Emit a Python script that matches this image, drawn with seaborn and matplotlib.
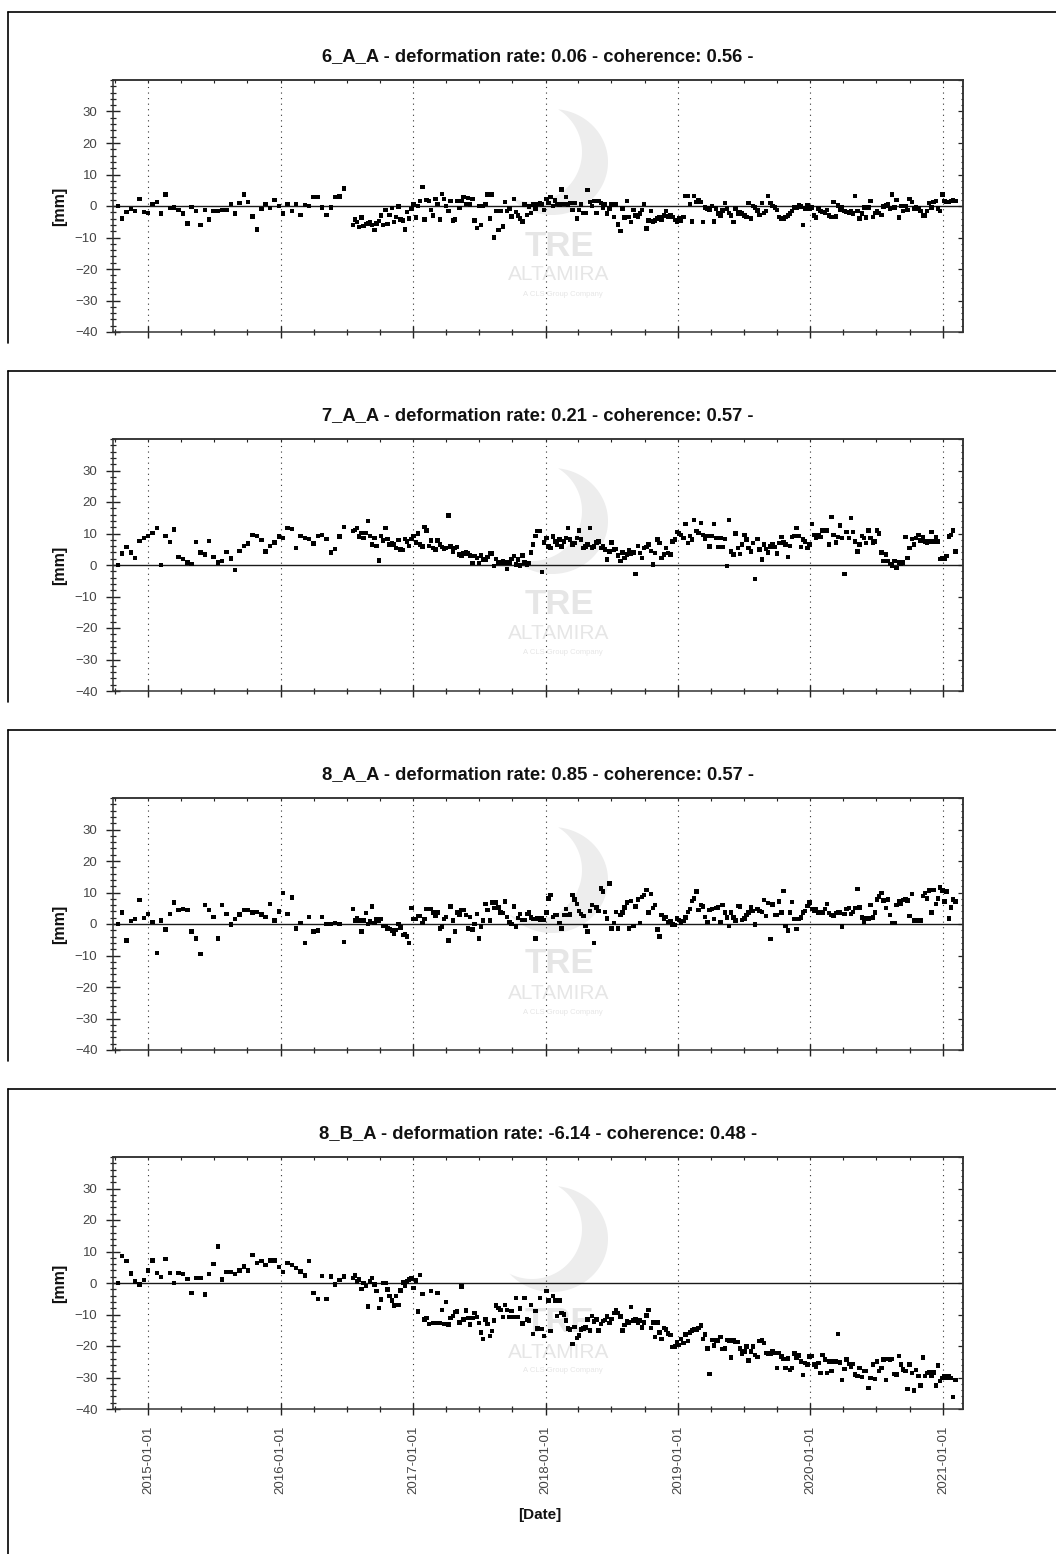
import numpy as np
import pandas as pd
import matplotlib
matplotlib.use("Agg")
import matplotlib.pyplot as plt
import matplotlib.dates as mdates
from matplotlib.ticker import MultipleLocator, FixedLocator
from matplotlib.lines import Line2D
from matplotlib.patches import Polygon
import seaborn as sns

sns.set_style("white")
plt.rcParams['font.family'] = ['Liberation Sans', 'DejaVu Sans']

# ---------------- acquisition schedule ----------------
SCHED_A_START, SCHED_A_N, SCHED_A_STEP = "2014-10-09", 53, "12D"
SCHED_B_START, SCHED_B_N, SCHED_B_STEP = "2016-07-18", 278, "6D"

titles = [
    "6_A_A - deformation rate: 0.06 - coherence: 0.56 -",
    "7_A_A - deformation rate: 0.21 - coherence: 0.57 -",
    "8_A_A - deformation rate: 0.85 - coherence: 0.57 -",
    "8_B_A - deformation rate: -6.14 - coherence: 0.48 -",
]

# ---------------- panel 1 : 6_A_A ----------------
p1_2014 = [0.0, -4.0, -2.0, -1.0, -1.6, 2.3, -2.0]
p1_2015 = [-2.2, 0.6, 1.3, -2.4, 3.6, -0.6, -0.5, -1.2, -2.4, -5.6,
           -0.4, -1.6, -6.0, -1.2, -4.3, -1.6, -1.6, -1.2, -1.2, 0.7,
           -2.4, 1.0, 3.6, 1.3, -3.3, -7.5, -1.0, 0.7, -0.6, 2.0, 0.0]
p1_2016a = [-2.4, 0.7, -1.6, 0.7, -2.9, 0.4, 0.0, 2.9, 2.9, -0.5,
            -2.9, -0.5, 2.9, 3.0, 5.6]
p1_2016b = [-6.1, -4.3, -5.0, -6.7, -3.7, -6.3, -5.8, -5.6, -5.3, -6.0,
            -7.7, -5.6, -4.8, -3.0, -6.1, -1.2, -5.8, -2.8, -0.6, -5.1,
            -3.5, -0.2, -4.3, -4.6, -7.5, -2.0, -4.0, -1.0]
p1_2017 = [0.5, -3.7, 0.0, 1.6, 6.0, -4.3, 2.0, 1.6, -1.2, -3.0,
           2.3, 0.7, -4.3, 3.9, 2.3, 0.0, -1.6, 1.6, -4.6, -4.3,
           1.6, -0.6, 1.6, 2.9, 0.7, 2.6, 0.5, 2.3, -4.6, -6.9,
           0.0, -6.1, 0.0, 0.7, 3.6, -4.0, 3.6, -10.0, -1.6, -7.7,
           -1.6, -6.5, 1.3, -1.6, -0.8, -3.3, 2.3, -1.9, -3.0, -4.0,
           -4.9, 0.5, -2.8, -0.1, -2.2, 0.5, -0.8, 0.7, 1.0, 0.5, -1.2]
p1_2018 = [2.3, 1.0, 2.9, 0.0, 1.8, 0.7, 0.5, 5.2, 0.7, 2.9,
           0.5, 1.0, -1.2, 1.0, -4.0, -1.2, 0.5, -2.2, -2.2, 5.0,
           1.3, 0.0, 1.6, -2.2, 1.6, 1.0, -0.5, 0.5, -2.4, -0.8,
           0.5, -3.5, 0.5, -5.9, -7.9, -0.8, -3.7, 1.6, -3.5, -5.1,
           -1.2, -3.0, -3.5, -2.4, -1.2, 0.7, -7.2, -4.6, -1.6, -4.9,
           -4.6, -4.0, -3.7, -4.3, -3.0, -1.6, -3.3, -3.0, -3.5, -4.5, -5.1]
p1_2019 = [-4.0, -4.6, -3.5, 3.1, 3.1, 0.7, -4.9, 3.1, 1.3, 2.0,
           1.3, -5.1, -0.5, -0.8, -1.2, 0.0, -4.9, -0.8, -2.4, -3.0,
           -1.4, 1.0, -0.8, -2.2, -3.0, -5.1, -0.8, -2.4, -1.9, -2.4,
           -3.0, -3.5, 1.0, -4.0, 0.0, -0.5, -1.4, -2.8, 1.0, -2.2,
           -1.6, 3.2, 1.0, 0.0, -0.5, -1.2, -3.5, -4.0, -4.0, -3.5,
           -3.0, -2.4, -1.6, -0.5, -0.5, 0.2, -0.1, -6.1, -0.8, 0.2]
p1_2020 = [-0.8, -0.5, -3.0, -3.7, -0.8, -1.6, -1.9, -2.2, -1.2, -3.0,
           -3.5, 1.3, -3.3, 0.2, -1.2, -0.5, -1.6, -1.9, -2.2, -1.6,
           -2.4, 3.2, -1.6, -4.0, -2.4, -0.5, -3.7, -0.5, 1.6, -3.5,
           -2.2, -1.6, -2.2, -2.8, -0.1, 0.2, 0.5, -0.8, 3.6, -0.5,
           2.0, -3.7, 0.0, -1.6, 0.0, -1.2, 2.3, 1.3, -0.8, -0.5,
           -0.8, -1.6, -3.0, -3.0, -1.6, 1.0, -0.5, 1.3, 1.6, -0.8, -1.6]
p1_2021 = [3.6, 1.6, 1.3, 1.3, 1.6, 2.0, 1.6]

# ---------------- panel 2 : 7_A_A ----------------
p2_2014 = [0.0, 3.6, 5.7, 4.0, 2.2, 7.7, 8.5]
p2_2015 = [9.3, 10.2, 11.7, 0.0, 9.3, 7.3, 11.3, 2.5, 2.0, 0.8,
           0.4, 7.3, 4.0, 3.3, 7.7, 2.5, 0.8, 1.2, 4.1, 2.1,
           -1.6, 4.5, 6.1, 6.8, 9.6, 9.3, 8.0, 4.3, 6.1, 7.2, 9.0]
p2_2016a = [8.6, 11.7, 11.4, 5.4, 9.3, 8.6, 8.3, 6.8, 9.3, 9.6,
            8.3, 4.0, 5.1, 9.0, 12.1]
p2_2016b = [10.7, 11.2, 11.7, 9.0, 10.2, 8.6, 10.2, 13.9, 9.3, 6.5,
            8.6, 6.1, 1.4, 9.3, 7.8, 11.7, 8.3, 6.5, 7.0, 6.5,
            5.4, 8.0, 4.9, 4.7, 8.3, 7.5, 6.1, 8.3]
p2_2017 = [9.3, 7.2, 10.0, 6.5, 5.9, 12.1, 11.0, 6.1, 7.8, 5.4,
           4.9, 7.8, 6.5, 5.7, 5.1, 5.4, 15.7, 5.9, 4.3, 5.4,
           5.7, 3.3, 2.8, 3.6, 4.1, 3.6, 3.0, 0.6, 2.8, 2.2,
           0.6, 3.0, 1.7, 1.5, 2.5, 3.8, 3.6, -0.4, 1.9, 0.6,
           0.8, 1.2, 0.8, -1.2, 0.8, 1.9, 2.8, 0.1, 1.7, -0.1,
           3.0, 0.8, 0.1, 0.6, 4.0, 6.5, 9.3, 10.7, 10.7, -2.3, 7.2]
p2_2018 = [8.6, 5.9, 5.4, 9.1, 7.5, 6.5, 8.1, 5.9, 7.5, 8.6,
           11.7, 8.1, 6.5, 7.0, 8.6, 11.0, 8.1, 5.4, 5.9, 6.5,
           11.7, 5.6, 5.9, 7.2, 7.5, 5.4, 5.9, 4.9, 1.7, 4.3,
           7.2, 4.9, 5.1, 3.0, 1.2, 4.0, 2.2, 3.3, 4.6, 3.5,
           4.0, -2.9, 6.1, 3.8, 2.2, 5.4, 5.7, 6.5, 4.5, 0.1,
           3.8, 8.1, 7.0, 2.2, 3.3, 5.4, 3.8, 3.3, 7.5, 8.1, 10.4]
p2_2019 = [10.0, 9.6, 8.6, 13.0, 7.0, 9.3, 8.1, 14.2, 10.7, 10.2,
           13.3, 9.6, 8.3, 9.3, 5.9, 9.3, 13.0, 8.6, 5.7, 8.6,
           5.7, 8.3, -0.4, 14.2, 4.3, 3.3, 10.0, 5.4, 3.5, 6.5,
           9.6, 8.1, 5.4, 4.3, 7.0, -4.4, 8.3, 4.9, 1.7, 6.5,
           5.1, 4.0, 5.9, 6.5, 5.7, 3.6, 7.0, 8.9, 7.2, 6.5,
           2.5, 6.1, 8.9, 9.3, 11.7, 9.3, 5.7, 8.1, 7.5, 5.4]
p2_2020 = [6.5, 13.0, 9.6, 8.6, 9.6, 8.9, 11.0, 10.7, 11.0, 6.5,
           15.2, 9.6, 7.2, 8.9, 12.5, 8.6, -2.8, 10.4, 8.6, 14.9,
           10.4, 7.5, 4.3, 6.5, 9.3, 8.6, 7.0, 11.0, 8.6, 7.2,
           7.5, 11.0, 10.0, 4.0, 1.2, 3.3, 1.2, 0.4, -0.2, 1.2,
           -1.0, 0.8, 0.4, 0.8, 8.9, 2.2, 5.4, 8.3, 6.5, 8.6,
           9.6, 7.8, 8.9, 7.5, 7.2, 7.5, 10.4, 7.5, 8.8, 7.5, 1.9]
p2_2021 = [2.2, 1.9, 2.8, 9.1, 9.6, 11.0, 4.3]

# ---------------- panel 3 : 8_A_A ----------------
p3_2014 = [0.0, 3.6, -5.3, 1.0, 1.6, 7.6, 2.0]
p3_2015 = [3.1, 0.7, -9.3, 1.1, -1.7, 3.1, 6.8, 4.4, 4.8, 4.4,
           -2.4, -4.6, -9.6, 6.0, 4.4, 2.3, -4.6, 6.0, 3.1, -0.1,
           1.6, 3.0, 4.4, 4.4, 3.6, 3.9, 3.0, 2.3, 6.3, 1.1, 4.0]
p3_2016a = [9.9, 3.2, 8.4, -1.4, 0.4, -6.1, 2.3, -2.4, -2.1, 2.3,
            0.0, 0.0, 0.4, 0.0, -5.8]
p3_2016b = [4.8, 1.1, 2.0, 1.1, -2.4, 1.1, 3.4, 0.0, 0.8, 5.5,
            0.4, 1.6, 1.0, 1.6, -0.6, -0.6, -1.4, -1.5, -2.1, -3.0,
            -2.0, 0.0, -1.1, -3.5, -3.2, -4.0, -6.1, 5.0]
p3_2017 = [1.6, 1.6, 2.6, 2.6, 0.4, 1.6, 4.8, 4.8, 4.8, 3.6,
           2.5, 3.6, -1.4, -0.8, 1.6, 2.3, -5.3, 5.5, 1.1, -2.4,
           3.6, 3.0, 4.4, 4.4, 2.9, -1.4, 2.3, -1.7, 0.0, 3.2,
           -4.6, -0.8, 1.1, 6.3, 4.4, 1.1, 6.8, 5.0, 6.8, 5.3,
           3.6, 3.4, 7.1, 2.3, 0.7, 0.0, 5.5, -0.8, 2.0, 3.2,
           1.3, 1.3, 3.2, 3.6, 2.1, 1.6, -4.6, 1.8, 1.3, 1.8, 1.3]
p3_2018 = [3.6, 8.1, 9.2, 2.3, 2.9, 2.9, 0.4, -1.4, 2.9, 4.7,
           2.9, 3.0, 9.2, 7.8, 6.3, 4.2, 3.1, 2.5, -0.6, -2.4,
           4.2, 6.0, -6.1, 5.3, 4.2, 11.3, 10.3, 3.9, 1.8, 12.9,
           -1.4, 0.4, 3.9, -1.4, 2.9, 3.6, 5.3, 6.8, -1.4, 7.3,
           -0.6, 5.5, 7.8, 0.4, 8.5, 9.2, 10.8, 3.7, 9.5, 5.0,
           6.0, -1.7, -4.0, 2.9, 1.6, 2.3, 0.7, 1.0, -0.1, -0.3, 1.8]
p3_2019 = [1.3, 0.4, 1.0, 2.1, 3.9, 4.7, 7.3, 8.1, 10.3, 4.4,
           6.0, 5.5, 2.3, 0.7, 4.4, 4.7, 1.5, 5.0, 5.2, 0.7,
           6.0, 3.6, 2.1, -0.6, 3.6, 2.1, 1.1, 5.8, 5.5, 1.3,
           1.8, 2.9, 3.6, 5.3, 4.2, -0.1, 4.7, 4.2, 3.9, 7.6,
           2.5, 6.6, -4.8, 6.2, 2.9, 2.9, 7.1, 3.6, 10.5, -0.6,
           -2.1, 3.6, 6.9, 1.5, -1.6, 1.5, 2.1, 3.6, 4.2, 5.7]
p3_2020 = [6.8, 4.7, 4.2, 4.7, 3.6, 3.4, 3.6, 4.7, 6.3, 3.4,
           2.9, 2.5, 3.4, 3.9, 3.6, -0.8, 3.1, 4.7, 5.0, 3.2,
           3.9, 5.0, 11.1, 5.3, 2.1, 0.7, 1.8, 1.8, 6.0, 2.1,
           3.6, 7.8, 8.7, 9.9, 7.4, 5.0, 7.8, 2.9, 0.4, 0.4,
           6.0, 7.1, 6.3, 7.6, 7.8, 7.4, 2.5, 9.5, 1.1, 1.1,
           1.1, 1.1, 8.9, 9.9, 8.1, 10.6, 3.7, 10.8, 6.3, 8.1, 11.6]
p3_2021 = [10.6, 7.1, 10.3, 1.8, 5.3, 7.8, 7.1]

# ---------------- panel 4 : 8_B_A ----------------
p4_2014 = [0.0, 8.5, 6.9, 3.0, 0.5, -0.5, 1.0]
p4_2015 = [4.0, 7.2, 3.2, 1.9, 7.6, 3.2, 0.0, 3.2, 2.9, 1.3,
           -3.2, 1.6, 1.6, -3.7, 2.9, 6.0, 11.6, 1.1, 3.4, 3.4,
           2.9, 4.0, 5.3, 4.0, 8.8, 6.3, 7.0, 5.8, 7.2, 7.2, 5.0]
p4_2016a = [3.4, 6.3, 5.8, 4.8, 3.7, 2.4, 6.9, -3.2, -5.1, 2.3,
            -5.1, 2.1, -0.5, 1.0, 2.1]
p4_2016b = [1.6, 2.4, 0.5, 1.1, -1.9, 0.0, -1.0, -7.4, 0.5, 1.6,
            -0.5, -2.5, -7.9, -5.3, 0.0, 0.0, -2.1, -4.2, -5.5, -7.2,
            -4.2, -6.9, -2.4, 0.2, -0.8, 0.5, 1.1, 1.4]
p4_2017 = [-1.6, 0.8, -9.0, 2.6, -3.5, -11.6, -11.1, -13.0, -2.6, -12.7,
           -12.7, -3.2, -12.7, -8.5, -13.0, -6.0, -13.2, -11.1, -10.4, -9.3,
           -9.0, -12.5, -1.1, -11.6, -8.7, -11.1, -13.2, -11.1, -9.5, -10.8,
           -12.7, -15.7, -17.7, -11.6, -13.0, -16.9, -15.3, -11.9, -7.2, -7.9,
           -8.5, -10.8, -6.9, -8.5, -10.8, -8.8, -10.8, -4.8, -10.8, -8.1,
           -12.9, -4.8, -11.6, -11.9, -6.9, -16.1, -8.8, -14.5, -4.8, -14.6, -16.9]
p4_2018 = [-2.6, -5.6, -15.3, -4.2, -5.5, -10.4, -5.5, -9.5, -10.0, -11.9,
           -14.5, -14.8, -19.3, -14.0, -17.5, -16.7, -14.8, -14.5, -14.1, -11.6,
           -15.1, -10.4, -12.2, -11.6, -15.1, -13.0, -12.0, -11.8, -10.6, -12.7,
           -11.5, -9.5, -8.7, -9.5, -10.6, -15.1, -13.4, -12.2, -12.5, -7.6,
           -11.9, -11.4, -12.5, -11.9, -14.1, -12.5, -10.3, -8.5, -14.3, -12.5,
           -17.1, -12.5, -15.7, -17.7, -14.3, -14.8, -16.0, -16.6, -20.3, -20.1, -18.8]
p4_2019 = [-19.6, -17.8, -19.0, -16.4, -18.5, -15.7, -15.1, -14.6, -15.0, -14.3,
           -13.5, -17.8, -16.4, -20.8, -28.8, -18.0, -19.9, -18.3, -18.5, -17.1,
           -21.0, -20.8, -18.0, -18.2, -23.6, -18.3, -18.8, -18.8, -20.8, -22.4,
           -21.7, -20.1, -24.6, -21.7, -20.1, -22.8, -23.5, -18.5, -18.3, -19.0,
           -22.2, -22.4, -22.4, -21.7, -22.2, -27.0, -22.2, -23.3, -24.1, -27.0,
           -24.0, -27.7, -27.0, -22.4, -23.8, -23.0, -24.9, -29.3, -25.4, -25.9]
p4_2020 = [-23.3, -23.1, -25.9, -26.5, -25.4, -28.6, -22.8, -24.3, -28.6, -24.9,
           -28.0, -24.9, -24.9, -16.1, -25.2, -30.7, -27.3, -24.3, -25.7, -26.5,
           -25.7, -29.1, -29.6, -27.0, -29.8, -28.0, -28.0, -33.3, -30.2, -25.9,
           -30.4, -24.9, -28.0, -27.0, -24.3, -30.7, -24.1, -24.3, -24.1, -28.8,
           -29.1, -23.1, -25.9, -27.5, -28.0, -33.7, -25.9, -28.6, -34.1, -27.7,
           -29.6, -32.5, -23.6, -29.6, -28.6, -28.3, -29.4, -28.4, -32.5, -26.2, -31.2]
p4_2021 = [-30.2, -29.6, -30.2, -29.6, -30.2, -36.2, -30.7]

panels = [
    p1_2014 + p1_2015 + p1_2016a + p1_2016b + p1_2017 + p1_2018 + p1_2019 + p1_2020 + p1_2021,
    p2_2014 + p2_2015 + p2_2016a + p2_2016b + p2_2017 + p2_2018 + p2_2019 + p2_2020 + p2_2021,
    p3_2014 + p3_2015 + p3_2016a + p3_2016b + p3_2017 + p3_2018 + p3_2019 + p3_2020 + p3_2021,
    p4_2014 + p4_2015 + p4_2016a + p4_2016b + p4_2017 + p4_2018 + p4_2019 + p4_2020 + p4_2021,
]

dates = pd.date_range(SCHED_A_START, periods=SCHED_A_N, freq=SCHED_A_STEP).append(
    pd.date_range(SCHED_B_START, periods=SCHED_B_N, freq=SCHED_B_STEP))
for i, v in enumerate(panels):
    assert len(v) == len(dates), (i, len(v), len(dates))

Y_TICKS = [-40, -30, -20, -10, 0, 10, 20, 30]
X_START, X_END = pd.Timestamp("2014-09-26"), pd.Timestamp("2021-02-25")

# ---------------- layout (pixel based) ----------------
W, H = 1056, 1554
fig = plt.figure(figsize=(W / 100, H / 100), dpi=100)
fig.patch.set_facecolor("white")

def fx(x):
    return x / W

def fy(y):
    return 1 - y / H

STEP = 359
AX_L, AX_R, AX_T, AX_B = 113, 963, 80, 332
SPINE_C = "#333333"
TICK_C = "#222222"
LABEL_C = "#444444"
WM_C = "#e6e6e6"


def crescent(cx, cy):
    """Light watermark swoosh: outer ellipse minus a shifted inner ellipse."""
    ox, oy, orx, ory = cx, cy, 56, 53
    ix, iy, irx, iry = cx - 20, cy - 10, 50, 50
    t = np.linspace(-np.pi, np.pi, 720)
    out_pts = np.c_[ox + orx * np.cos(t), oy + ory * np.sin(t)]
    in_pts = np.c_[ix + irx * np.cos(t), iy + iry * np.sin(t)]
    keep_o = ((out_pts[:, 0] - ix) / irx) ** 2 + ((out_pts[:, 1] - iy) / iry) ** 2 > 1
    keep_i = ((in_pts[:, 0] - ox) / orx) ** 2 + ((in_pts[:, 1] - oy) / ory) ** 2 < 1
    o = out_pts[keep_o]
    o = o[np.argsort(np.arctan2(o[:, 1] - oy, o[:, 0] - ox))]
    i_ = in_pts[keep_i]
    i_ = i_[np.argsort(np.arctan2(i_[:, 1] - iy, i_[:, 0] - ix))][::-1]
    return np.vstack([o, i_])


for k, (title, vals) in enumerate(zip(titles, panels)):
    dy = STEP * k
    # outer frame (top and left edges of each exported chart)
    fig.add_artist(Line2D([fx(8), 1.0], [fy(12 + dy)] * 2, color="black", lw=1.2))
    y_end = fy(343 + dy) if k < 3 else 0.0
    fig.add_artist(Line2D([fx(8)] * 2, [fy(12 + dy), y_end], color="black", lw=1.2))

    # watermark (logo swoosh + wordmark)
    poly = crescent(552, 162 + dy)
    fig.add_artist(Polygon(np.c_[fx(poly[:, 0]), fy(poly[:, 1])], closed=True,
                           transform=fig.transFigure, facecolor="#ededed",
                           edgecolor="none", zorder=-2))
    fig.text(fx(559), fy(246 + dy), "TRE", fontsize=25, fontweight="bold",
             color=WM_C, ha="center", va="center", zorder=-1)
    fig.text(fx(559), fy(275 + dy), "ALTAMIRA", fontsize=15,
             color=WM_C, ha="center", va="center", zorder=-1)
    fig.text(fx(563), fy(294 + dy), "A CLS Group Company", fontsize=5.5,
             color=WM_C, ha="center", va="center", zorder=-1)

    ax = fig.add_axes([fx(AX_L), fy(AX_B + dy), (AX_R - AX_L) / W, (AX_B - AX_T) / H])
    ax.set_facecolor("none")
    df = pd.DataFrame({"date": dates, "value": vals})
    ax.axhline(0, color="#1a1a1a", lw=1.0, zorder=2)
    sns.scatterplot(data=df, x="date", y="value", marker="s", s=10, color="black",
                    linewidth=0, edgecolor="none", ax=ax, zorder=3, legend=False)
    ax.set_xlim(X_START, X_END)
    ax.set_ylim(-40, 40)
    ax.set_xlabel("")
    ax.set_ylabel("")

    ax.yaxis.set_major_locator(FixedLocator(Y_TICKS))
    ax.yaxis.set_minor_locator(MultipleLocator(2))
    ax.xaxis.set_major_locator(mdates.YearLocator())
    ax.xaxis.set_minor_locator(mdates.MonthLocator(bymonth=[1, 4, 7, 10]))
    ax.xaxis.set_major_formatter(mdates.DateFormatter("%Y-%m-%d"))

    ax.grid(axis="x", which="major", color="#333333", linestyle=(0, (1, 4)), linewidth=0.8)
    ax.grid(axis="y", visible=False)

    for s in ax.spines.values():
        s.set_color(SPINE_C)
        s.set_linewidth(1.1)

    ax.tick_params(axis="y", which="major", direction="inout", length=9.5, width=1.0,
                   color=TICK_C, labelcolor=LABEL_C, labelsize=9.5, pad=6.5,
                   left=True, right=False)
    ax.tick_params(axis="y", which="minor", direction="inout", length=5, width=0.9,
                   color=TICK_C, left=True, right=False)
    ax.tick_params(axis="x", which="major", direction="inout", length=8, width=1.0,
                   color=TICK_C, labelcolor=LABEL_C, labelsize=9.5, pad=8,
                   labelrotation=90, bottom=True, top=False, labelbottom=(k == 3))
    ax.tick_params(axis="x", which="minor", direction="inout", length=5, width=0.9,
                   color=TICK_C, bottom=True, top=False)

    sec_r = ax.secondary_yaxis("right")
    sec_r.yaxis.set_major_locator(MultipleLocator(10))
    sec_r.yaxis.set_minor_locator(MultipleLocator(2))
    sec_r.tick_params(which="major", direction="in", length=3.6, width=0.9, color=TICK_C,
                      right=True, left=False, labelright=False, labelleft=False)
    sec_r.tick_params(which="minor", direction="in", length=1.8, width=0.8, color=TICK_C,
                      right=True, left=False)
    for s in sec_r.spines.values():
        s.set_color(SPINE_C)
        s.set_linewidth(1.1)

    sec_t = ax.secondary_xaxis("top")
    sec_t.xaxis.set_major_locator(mdates.YearLocator())
    sec_t.xaxis.set_minor_locator(mdates.MonthLocator(bymonth=[1, 4, 7, 10]))
    sec_t.tick_params(which="both", direction="in", length=2.4, width=0.8, color=TICK_C,
                      top=True, bottom=False, labeltop=False, labelbottom=False)
    for s in sec_t.spines.values():
        s.set_color(SPINE_C)
        s.set_linewidth(1.1)

    fig.text(fx(538), fy(57 + dy), title, fontsize=13.2, fontweight="bold",
             color="#111111", ha="center", va="center")
    fig.text(fx(60), fy(206 + dy), "[mm]", fontsize=11.5, fontweight="bold",
             color="#111111", rotation=90, ha="center", va="center")

fig.text(fx(540), fy(1515), "[Date]", fontsize=11, fontweight="bold",
         color="#111111", ha="center", va="center")

fig.savefig("out.png", dpi=100, facecolor="white")
